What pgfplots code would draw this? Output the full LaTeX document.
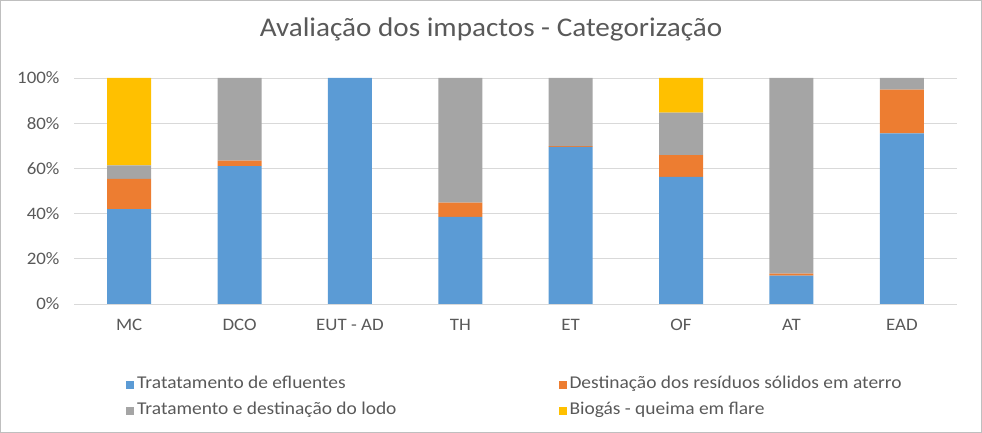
\documentclass[border=0pt]{standalone}
\usepackage{fontspec}
\setmainfont{Carlito}[FakeStretch=1.08]
\usepackage{pgfplots}
\pgfplotsset{compat=1.18}
\definecolor{cblue}{HTML}{5B9BD5}
\definecolor{corange}{HTML}{ED7D31}
\definecolor{cgray}{HTML}{A5A5A5}
\definecolor{cyellow}{HTML}{FFC000}
\definecolor{ctext}{HTML}{595959}
\definecolor{cgrid}{HTML}{D9D9D9}
\begin{document}
\begin{tikzpicture}[x=1pt,y=1pt]
\useasboundingbox (0,0) rectangle (982,433);
\draw[color=black!25,line width=1.2pt] (0.6,0.6) rectangle (981.4,432.4);
\node[text=ctext,font=\fontsize{27}{32}\selectfont,anchor=base] at (491,396.5) {Avaliação dos impactos - Categorização};
\begin{axis}[
  at={(74pt,129pt)}, anchor=south west,
  scale only axis, width=883pt, height=226pt,
  xmin=-0.5, xmax=7.5, ymin=0, ymax=100,
  ybar stacked, bar width=44pt,
  xtick={0,1,2,3,4,5,6,7},
  xticklabels={MC,DCO,EUT - AD,TH,ET,OF,AT,EAD},
  ytick={0,20,40,60,80,100},
  yticklabels={0\%,20\%,40\%,60\%,80\%,100\%},
  ymajorgrids, grid style={cgrid,line width=0.9pt},
  axis x line*=bottom, axis y line*=left,
  axis line style={draw=none},
  major tick length=0pt,
  tick label style={text=ctext,font=\fontsize{17.5}{20}\selectfont},
  xticklabel style={yshift=-12pt},
  yticklabel style={xshift=-11pt},
  legend columns=2,
  legend cell align=left,
  legend style={draw=none, fill=none, inner sep=0pt,
    at={(axis description cs:0.0589,-0.30)}, anchor=north west,
    font=\fontsize{18}{22}\selectfont, text=ctext,
    nodes={text height=12pt, text depth=4pt, inner ysep=5pt, inner xsep=3pt},
    /tikz/every even column/.append style={column sep=159pt},
    row sep=0pt},
  legend image code/.code={\fill[#1,draw=none] (0pt,-4pt) rectangle (8pt,4pt);},
]
\addplot[fill=cblue,draw=none] coordinates {(0,42) (1,61) (2,100) (3,38.6) (4,69.5) (5,56.3) (6,12.5) (7,75.5)};
\addplot[fill=corange,draw=none] coordinates {(0,13.4) (1,2.4) (2,0) (3,6.2) (4,0.3) (5,9.6) (6,0.9) (7,19.3)};
\addplot[fill=cgray,draw=none] coordinates {(0,5.9) (1,36.6) (2,0) (3,55.2) (4,30.2) (5,18.8) (6,86.6) (7,5.2)};
\addplot[fill=cyellow,draw=none] coordinates {(0,38.7) (1,0) (2,0) (3,0) (4,0) (5,15.3) (6,0) (7,0)};
\legend{Tratatamento de efluentes,Destinação dos resíduos sólidos em aterro,Tratamento e destinação do lodo,Biogás - queima em flare}
\end{axis}
\end{tikzpicture}
\end{document}
